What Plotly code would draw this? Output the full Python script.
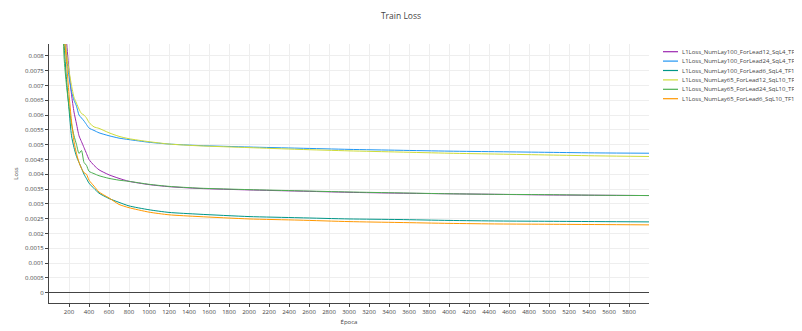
import plotly.graph_objects as go

# ---- data ----
epochs = [100, 150, 175, 200, 225, 250, 275, 300, 325, 350, 375, 400, 450, 500, 600, 700, 800,
          1000, 1200, 1500, 2000, 2500, 3000, 3500, 4000, 4500, 5000, 5500, 6000]

loss_l100_f12 = [0.016, 0.0095, 0.0085, 0.0075, 0.0067, 0.0061, 0.0057, 0.0053, 0.0051, 0.0049, 0.0047, 0.0045,
                 0.0043, 0.00415, 0.00398, 0.00386, 0.00376, 0.00365, 0.00358, 0.00352, 0.00347, 0.00343,
                 0.00339, 0.00336, 0.00334, 0.00332, 0.0033, 0.00329, 0.00328]
loss_l100_f24 = [0.013, 0.0090, 0.0080, 0.0073, 0.0068, 0.0065, 0.0063, 0.0060, 0.0059, 0.0058, 0.00568, 0.00556,
                 0.00548, 0.0054, 0.0053, 0.00522, 0.00517, 0.00508, 0.00502, 0.00497, 0.00492, 0.00488,
                 0.00484, 0.00481, 0.00478, 0.00476, 0.00474, 0.00472, 0.00471]
loss_l100_f6 = [0.016, 0.0085, 0.0072, 0.0062, 0.0053, 0.0049, 0.0046, 0.0044, 0.0042, 0.0040, 0.00385, 0.0037,
                0.00352, 0.00336, 0.00318, 0.00305, 0.00293, 0.0028, 0.00271, 0.00265, 0.00257, 0.00253,
                0.00249, 0.00247, 0.00244, 0.00242, 0.00241, 0.0024, 0.00239]
loss_l65_f12 = [0.013, 0.0092, 0.0081, 0.0075, 0.0070, 0.0066, 0.0064, 0.0062, 0.00605, 0.0060, 0.0059, 0.00575,
                0.0056, 0.00555, 0.0054, 0.00528, 0.0052, 0.0051, 0.00502, 0.00496, 0.0049, 0.00484,
                0.00479, 0.00475, 0.00471, 0.00468, 0.00465, 0.00462, 0.0046]
loss_l65_f24 = [0.016, 0.0080, 0.0070, 0.0063, 0.0057, 0.0053, 0.0050, 0.0047, 0.0048, 0.0044, 0.0043, 0.0041,
                0.00402, 0.00395, 0.00386, 0.0038, 0.00376, 0.00366, 0.00359, 0.00353, 0.00348, 0.00344,
                0.0034, 0.00337, 0.00334, 0.00332, 0.00331, 0.00329, 0.00328]
loss_l65_f6 = [0.016, 0.0088, 0.0078, 0.0067, 0.0058, 0.0051, 0.0047, 0.0044, 0.0042, 0.00405, 0.0040, 0.0038,
               0.0036, 0.0034, 0.0032, 0.00298, 0.00287, 0.00272, 0.00263, 0.00257, 0.00249, 0.00245,
               0.0024, 0.00237, 0.00234, 0.00232, 0.00231, 0.0023, 0.00229]

series_names = ["L1Loss_NumLay100_ForLead12_SqL4_TF", "L1Loss_NumLay100_ForLead24_SqL4_TF",
                "L1Loss_NumLay100_ForLead6_SqL4_TF1", "L1Loss_NumLay65_ForLead12_SqL10_TF",
                "L1Loss_NumLay65_ForLead24_SqL10_TF", "L1Loss_NumLay65_ForLead6_SqL10_TF1"]
series_values = [loss_l100_f12, loss_l100_f24, loss_l100_f6, loss_l65_f12, loss_l65_f24, loss_l65_f6]
series_colors = ["#9c27b0", "#2196f3", "#009688", "#cddc39", "#4caf50", "#ff9800"]

x_tickvals = list(range(200, 6000, 200))
y_tickvals = [i * 0.0005 for i in range(17)]
y_ticktext = ["0"] + [("%.4f" % v).rstrip("0") for v in y_tickvals[1:]]

FONT = "Open Sans, verdana, arial, sans-serif"
TXT = "#444"

# figure sits inside the page body (8px default margin)
W, H = 794, 323
L, R, T, B = 41, 153, 36, 28
PW, PH = W - L - R, H - T - B

fig = go.Figure()
for name, vals, col in zip(series_names, series_values, series_colors):
    fig.add_trace(go.Scatter(x=epochs, y=vals, mode="lines", name=name,
                             line=dict(color=col, width=1, shape="spline", smoothing=0.6)))

# compact legend (lines + labels), laid out in paper coordinates
leg_x0, leg_x1, leg_tx = 655, 670, 672   # figure px
leg_y0, leg_dy = 43.7, 9.4
for i, (name, col) in enumerate(zip(series_names, series_colors)):
    yy = 1 - (leg_y0 + i * leg_dy - T) / PH
    fig.add_shape(type="line", xref="paper", yref="paper",
                  x0=(leg_x0 - L) / PW, x1=(leg_x1 - L) / PW, y0=yy, y1=yy,
                  line=dict(color=col, width=1.2))
    fig.add_annotation(xref="paper", yref="paper", x=(leg_tx - L) / PW, y=yy,
                       xanchor="left", yanchor="middle", text=name, showarrow=False,
                       font=dict(size=6, color=TXT, family=FONT))

fig.update_layout(
    width=W, height=H,
    margin=dict(l=L, r=R, t=T, b=B, autoexpand=False),
    paper_bgcolor="white", plot_bgcolor="white",
    font=dict(family=FONT, size=6, color=TXT),
    title=dict(text="Train Loss", x=(393 - 0) / W, xanchor="center", y=1 - 8 / H, yanchor="middle",
               font=dict(size=8.5, color=TXT)),
    showlegend=False,
)
fig.update_xaxes(range=[0, 6000], tickvals=x_tickvals, showgrid=True, gridcolor="#eeeeee",
                 showline=True, linecolor="#444", linewidth=1, ticks="outside", ticklen=3,
                 tickcolor="#444", zeroline=False, tickfont=dict(size=6, color=TXT),
                 title=dict(text="Época", font=dict(size=6, color=TXT), standoff=4),
                 automargin=False)
fig.update_yaxes(range=[-0.00035, 0.0084], tickvals=y_tickvals, ticktext=y_ticktext, showgrid=True,
                 gridcolor="#eeeeee", showline=True, linecolor="#444", linewidth=1, ticks="outside",
                 ticklen=3, tickcolor="#444", zeroline=True, zerolinecolor="#444", zerolinewidth=1,
                 tickfont=dict(size=6, color=TXT),
                 title=dict(text="Loss", font=dict(size=6, color=TXT), standoff=5),
                 automargin=False)

fig.write_html("out.html")
